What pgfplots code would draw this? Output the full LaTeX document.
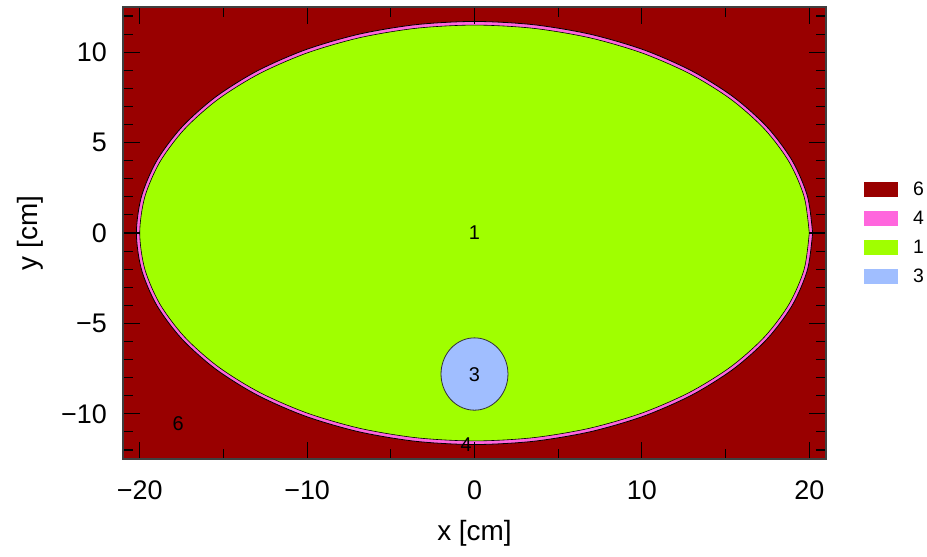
\documentclass[border=0pt]{standalone}
\usepackage{fontspec}
\setmainfont{Liberation Sans}
\usepackage{pgfplots}
\pgfplotsset{compat=1.18}
\definecolor{c6}{RGB}{153,0,0}
\definecolor{c4}{RGB}{255,102,221}
\definecolor{c1}{RGB}{160,255,0}
\definecolor{c3}{RGB}{160,190,255}
\newcommand{\lgf}{\fontsize{19.5}{21}\selectfont}
\begin{document}
\begin{tikzpicture}
\begin{axis}[
  scale only axis, width=703bp, height=452bp,
  xmin=-21, xmax=21, ymin=-12.5, ymax=12.5,
  axis on top,
  xtick={-20,-10,0,10,20}, xticklabels={−20,−10,0,10,20},
  minor xtick={-15,-5,5,15},
  ytick={-10,-5,0,5,10}, yticklabels={−10,−5,0,5,10},
  minor ytick={-12,-11,...,12},
  tick align=inside,
  major tick length=17bp, minor tick length=10bp,
  tick style={black, line width=1.1bp},
  axis line style={line width=1.2bp, black!75},
  ticklabel style={font=\fontsize{27}{30}\selectfont},
  xticklabel style={anchor=center, yshift=-31bp},
  yticklabel style={anchor=east, inner sep=0pt, xshift=-16bp},
  xlabel={x [cm]}, ylabel={y [cm]},
  label style={font=\fontsize{28}{32}\selectfont},
  xlabel style={at={(axis description cs:0.5,-0.1637)}, anchor=center},
  ylabel style={at={(axis description cs:-0.1323,0.5)}, anchor=center},
  legend image code/.code={\fill (0bp,-7.5bp) rectangle (34bp,7.5bp);},
  legend style={at={(axis description cs:1,0.5)}, anchor=west, xshift=38bp,
    draw=none, fill=none, inner sep=0pt, row sep=14bp,
    nodes={inner sep=0pt, anchor=center},
    /tikz/every odd column/.append style={column sep=15bp}},
  legend cell align=left,
]
\addplot[fill=c6, draw=none, forget plot] coordinates {(-21,-12.5) (21,-12.5) (21,12.5) (-21,12.5)} -- cycle;
\addplot[fill=c4, draw=black, line width=0.8bp, smooth, forget plot] coordinates {
(20.2,0) (19.893,2.032) (18.982,4.002) (17.494,5.85) (15.474,7.521) (12.984,8.963) (10.1,10.133) (6.909,10.994) (3.508,11.522) (0,11.7)
(-3.508,11.522) (-6.909,10.994) (-10.1,10.133) (-12.984,8.963) (-15.474,7.521) (-17.494,5.85) (-18.982,4.002) (-19.893,2.032) (-20.2,0)
(-19.893,-2.032) (-18.982,-4.002) (-17.494,-5.85) (-15.474,-7.521) (-12.984,-8.963) (-10.1,-10.133) (-6.909,-10.994) (-3.508,-11.522) (0,-11.7)
(3.508,-11.522) (6.909,-10.994) (10.1,-10.133) (12.984,-8.963) (15.474,-7.521) (17.494,-5.85) (18.982,-4.002) (19.893,-2.032) (20.2,0)
} -- cycle;
\addplot[fill=c1, draw=black, line width=0.6bp, smooth, forget plot] coordinates {
(20,0) (19.696,1.997) (18.794,3.933) (17.321,5.75) (15.321,7.392) (12.856,8.809) (10,9.959) (6.840,10.806) (3.473,11.325) (0,11.5)
(-3.473,11.325) (-6.840,10.806) (-10,9.959) (-12.856,8.809) (-15.321,7.392) (-17.321,5.75) (-18.794,3.933) (-19.696,1.997) (-20,0)
(-19.696,-1.997) (-18.794,-3.933) (-17.321,-5.75) (-15.321,-7.392) (-12.856,-8.809) (-10,-9.959) (-6.840,-10.806) (-3.473,-11.325) (0,-11.5)
(3.473,-11.325) (6.840,-10.806) (10,-9.959) (12.856,-8.809) (15.321,-7.392) (17.321,-5.75) (18.794,-3.933) (19.696,-1.997) (20,0)
} -- cycle;
\addplot[fill=c3, draw=black!80, line width=0.8bp, smooth, forget plot] coordinates {
(2,-7.8) (1.970,-7.453) (1.879,-7.116) (1.732,-6.8) (1.532,-6.514) (1.286,-6.268) (1,-6.068) (0.684,-5.921) (0.347,-5.830) (0,-5.8)
(-0.347,-5.830) (-0.684,-5.921) (-1,-6.068) (-1.286,-6.268) (-1.532,-6.514) (-1.732,-6.8) (-1.879,-7.116) (-1.970,-7.453) (-2,-7.8)
(-1.970,-8.147) (-1.879,-8.484) (-1.732,-8.8) (-1.532,-9.086) (-1.286,-9.332) (-1,-9.532) (-0.684,-9.679) (-0.347,-9.770) (0,-9.8)
(0.347,-9.770) (0.684,-9.679) (1,-9.532) (1.286,-9.332) (1.532,-9.086) (1.732,-8.8) (1.879,-8.484) (1.970,-8.147) (2,-7.8)
} -- cycle;
\addlegendimage{fill=c6, draw=none}
\addlegendentry{\lgf 6}
\addlegendimage{fill=c4, draw=none}
\addlegendentry{\lgf 4}
\addlegendimage{fill=c1, draw=none}
\addlegendentry{\lgf 1}
\addlegendimage{fill=c3, draw=none}
\addlegendentry{\lgf 3}
\node[font=\fontsize{20}{22}\selectfont] at (axis cs:0,0) {1};
\node[font=\fontsize{20}{22}\selectfont] at (axis cs:0,-7.83) {3};
\node[font=\fontsize{20}{22}\selectfont] at (axis cs:-0.5,-11.7) {4};
\node[font=\fontsize{20}{22}\selectfont] at (axis cs:-17.7,-10.57) {6};
\end{axis}
\pgfresetboundingbox
\path (current axis.south west) ++(-123bp,-98bp) rectangle ++(927bp,557bp);
\end{tikzpicture}
\end{document}
